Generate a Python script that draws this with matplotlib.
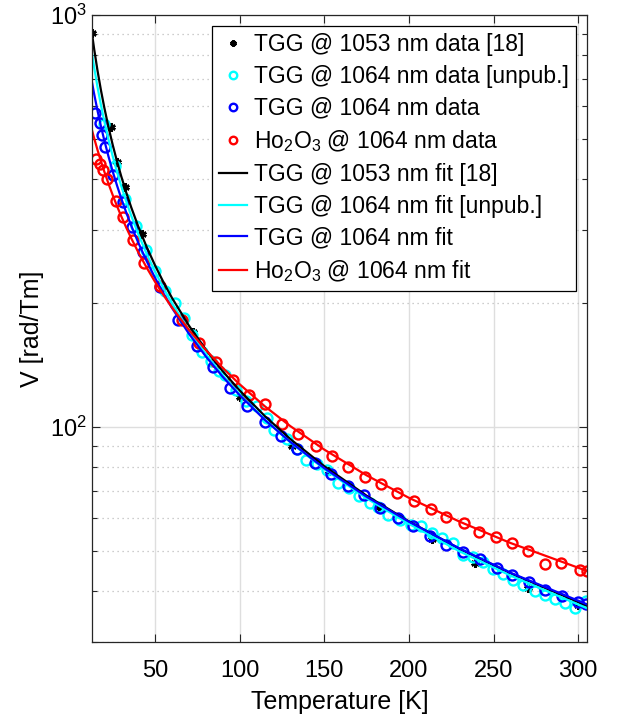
import numpy as np
import matplotlib
matplotlib.use("Agg")
import matplotlib.pyplot as plt
from matplotlib.ticker import LogLocator, NullFormatter, FixedLocator

plt.rcParams["font.family"] = ["Liberation Sans", "DejaVu Sans"]
plt.rcParams["mathtext.fontset"] = "custom"
plt.rcParams["mathtext.rm"] = "Liberation Sans"
plt.rcParams["mathtext.it"] = "Liberation Sans:italic"

# measured data, temperature [K] and Verdet constant [rad/Tm]
t_tgg1053 = [12.7, 23.7, 27.6, 32.5, 42.4, 72.5, 100.2, 130.8, 153.0, 182.5,
             213.4, 239.0, 270.4, 300.0]
v_tgg1053 = [904, 535.7, 440.6, 383, 294, 170, 118, 89.9, 77.9, 63.8,
             53.4, 46.7, 40.6, 37.0]

t_tgg_unpub = [20, 26.5, 32.5, 38.5, 44.5, 50, 56, 62, 67, 72, 77.5, 83, 88,
               91.5, 98, 104, 110, 116, 120.5, 128, 134, 139.5, 145.5, 151.5,
               158.3, 164.5, 170.7, 177, 182, 187.8, 194.7, 201, 206.9, 213.4,
               219.3, 225.8, 232.1, 238, 244, 249.8, 255.7, 261.6, 267.5,
               274.4, 280.3, 286.2, 292, 298, 304.9]
v_tgg_unpub = [545, 430, 358, 308, 268, 239, 214, 199.6, 183.6, 167, 151.5,
               144.5, 136.5, 133.7, 122.5, 115.3, 112, 105, 98.3, 93.3, 88.5,
               83.2, 81.0, 78.3, 73.0, 71.0, 67.7, 65.3, 64.0, 61.2, 59.5,
               57.8, 57.3, 55.2, 53.7, 52.2, 48.9, 48.2, 47.0, 45.2, 44.0,
               42.5, 41.2, 39.8, 39.1, 38.2, 37.4, 36.3, 37.7]

t_tgg1064 = [14.7, 17.2, 18.6, 20.5, 25.4, 31.0, 36.3, 42.8, 53.0, 63.8, 74.7,
             84.5, 94.3, 104.5, 115.0, 124.5, 134.0, 144.5, 153.8, 164.2,
             173.6, 182.9, 193.3, 202.5, 212.4, 222.2, 232.1, 241.9, 251.8,
             261.0, 270.8, 280.7, 290.5, 300.0, 304.5]
v_tgg1064 = [577, 546, 511, 479, 409, 352, 306, 266, 218, 182, 157, 139.6,
             124.1, 112.5, 102.4, 95, 88.3, 81.6, 76.8, 71.6, 68.4, 63.5,
             60.0, 57.3, 54.4, 51.7, 49.6, 47.6, 45.4, 43.7, 42.0, 40.2, 38.7,
             37.5, 37.1]

t_ho = [15.3, 17.6, 19.2, 21.5, 27.0, 31.0, 37.2, 43.2, 53.0, 65.8, 76.2,
        86.1, 96.3, 105.7, 115.0, 124.9, 134.6, 145.1, 154.4, 164.0, 174.0,
        183.7, 193.1, 203.0, 212.9, 222.2, 232.3, 241.5, 251.4, 261.0, 270.4,
        280.3, 290.1, 301.0, 305.0]
v_ho = [446, 434, 420, 400, 354, 323, 284, 250, 220, 182, 160, 143.6, 130,
        119.6, 113.5, 101.7, 96.2, 89.6, 85.1, 79.8, 75.5, 72.7, 69.1, 65.9,
        63.1, 60.2, 58.4, 55.5, 53.9, 52.2, 50.0, 46.4, 46.7, 45.0, 44.7]

# fit curves, read at these temperatures
t_fit = [12.5, 14, 16, 18, 20, 22.5, 25, 27.5, 30, 33, 36, 40, 45, 50, 55,
         60, 70, 80, 90, 100, 115, 130, 150, 175, 200, 230, 260, 305.5]
fit_tgg1053 = [917.0, 828.3, 733.6, 658.2, 596.8, 534.3, 483.6, 441.6, 406.2,
               370.5, 340.5, 307.2, 273.6, 246.6, 224.3, 205.6, 176.1, 153.9,
               136.4, 122.5, 106.0, 93.3, 80.2, 68.0, 58.9, 50.5, 44.1, 36.7]
fit_tgg_unpub = [819.3, 747.4, 669.1, 605.5, 552.9, 498.6, 453.9, 416.5,
                 384.8, 352.4, 325.0, 294.4, 263.3, 238.0, 217.1, 199.5,
                 171.4, 150.1, 133.4, 119.9, 104.0, 91.6, 78.9, 67.0, 58.1,
                 49.8, 43.5, 36.2]
fit_tgg1064 = [695.3, 644.0, 586.2, 537.8, 496.8, 453.4, 416.9, 385.9, 359.0,
               331.3, 307.5, 280.6, 252.8, 229.9, 210.7, 194.4, 168.3, 148.2,
               132.2, 119.3, 103.8, 91.8, 79.3, 67.6, 58.8, 50.6, 44.2, 37.0]
fit_ho = [529.7, 502.6, 470.4, 442.1, 417.0, 389.4, 365.2, 343.8, 324.8,
          304.5, 286.7, 265.8, 243.7, 224.9, 208.8, 194.9, 171.9, 153.7,
          139.0, 126.8, 112.0, 100.3, 88.0, 76.2, 67.2, 58.8, 52.2, 44.6]

fig = plt.figure(figsize=(6.21, 7.2), dpi=100)
ax = fig.add_axes([0.1477, 0.1083, 0.7980, 0.8709])

ms = 7.2
mew = 1.7
ax.plot(t_tgg1053, v_tgg1053, linestyle="none", marker=(6, 2, 0), ms=6,
        mew=1.8, color="k", label="TGG @ 1053 nm data [18]")
ax.plot(t_tgg_unpub, v_tgg_unpub, linestyle="none", marker="o", ms=ms,
        mew=mew, mfc="none", color="#00ffff",
        label="TGG @ 1064 nm data [unpub.]")
ax.plot(t_tgg1064, v_tgg1064, linestyle="none", marker="o", ms=ms, mew=mew,
        mfc="none", color="#0000ff", label="TGG @ 1064 nm data")
ax.plot(t_ho, v_ho, linestyle="none", marker="o", ms=ms, mew=mew,
        mfc="none", color="#ff0000", label="Ho$_2$O$_3$ @ 1064 nm data")

lw = 1.6
ax.plot(t_fit, fit_tgg1053, color="k", lw=lw, label="TGG @ 1053 nm fit [18]")
ax.plot(t_fit, fit_tgg_unpub, color="#00ffff", lw=lw,
        label="TGG @ 1064 nm fit [unpub.]")
ax.plot(t_fit, fit_tgg1064, color="#0000ff", lw=lw,
        label="TGG @ 1064 nm fit")
ax.plot(t_fit, fit_ho, color="#ff0000", lw=lw,
        label="Ho$_2$O$_3$ @ 1064 nm fit")

ax.set_yscale("log")
ax.set_xlim(12.6, 305.4)
ax.set_ylim(30, 1000)
ax.xaxis.set_major_locator(FixedLocator([50, 100, 150, 200, 250, 300]))
ax.yaxis.set_major_locator(LogLocator(base=10))
ax.yaxis.set_minor_locator(LogLocator(base=10, subs=np.arange(2, 10)))
ax.yaxis.set_minor_formatter(NullFormatter())

ax.grid(True, which="major", color="#dedede", lw=1.0, linestyle="-")
ax.grid(True, which="minor", axis="y", color="#bdbdbd", lw=0.9,
        linestyle=(0, (1, 3)))
ax.set_axisbelow(True)

ax.tick_params(which="both", direction="in", top=True, right=True,
               colors="#262626", labelcolor="black", labelsize=17)
ax.tick_params(which="major", length=6, width=0.8)
ax.tick_params(which="minor", length=3.5, width=0.8)
ax.tick_params(axis="x", pad=13)
for s in ax.spines.values():
    s.set_color("#262626")
    s.set_linewidth(0.9)

ax.set_xlabel("Temperature [K]", fontsize=18, labelpad=6)
ax.set_ylabel("V [rad/Tm]", fontsize=18, labelpad=4)

leg = ax.legend(loc="upper right", fontsize=16.5, frameon=True,
                fancybox=False, edgecolor="black", framealpha=1,
                markerscale=0.75, handlelength=1.25, handletextpad=0.3,
                labelspacing=0.38, borderpad=0.3, borderaxespad=0.5)
leg.get_frame().set_linewidth(0.9)

fig.savefig("out.png", dpi=100)
